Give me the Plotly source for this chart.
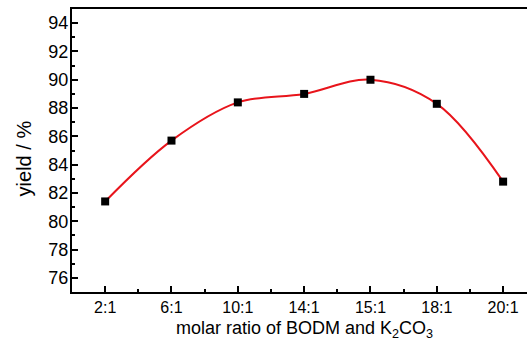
import plotly.graph_objects as go

categories = ["2:1", "6:1", "10:1", "14:1", "15:1", "18:1", "20:1"]
yield_pct = [81.4, 85.7, 88.4, 89.0, 90.0, 88.3, 82.8]
y_ticks = [76, 78, 80, 82, 84, 86, 88, 90, 92, 94]
x_title = "molar ratio of BODM and K<sub>2</sub>CO<sub>3</sub>"
y_title = "yield / %"

xpos = list(range(len(categories)))

fig = go.Figure()
fig.add_trace(go.Scatter(
    x=xpos, y=yield_pct, mode="lines",
    line=dict(color="#e8141b", width=2, shape="spline", smoothing=1.0),
    hoverinfo="skip", showlegend=False))
fig.add_trace(go.Scatter(
    x=xpos, y=yield_pct, mode="markers",
    marker=dict(symbol="square", size=8, color="black"),
    showlegend=False))

font = "Liberation Sans, Arial, sans-serif"
fig.update_layout(
    width=527, height=342,
    margin=dict(l=72, r=0, t=9, b=50),
    paper_bgcolor="white", plot_bgcolor="white",
    font=dict(family=font, color="black"),
)
fig.update_xaxes(
    range=[-0.5, 6.36], tickmode="array", tickvals=xpos, ticktext=categories,
    ticks="inside", ticklen=6, tickwidth=1.5, tickcolor="black",
    minor=dict(tickvals=[i + 0.5 for i in range(-1, 7)], ticks="inside", ticklen=3, tickwidth=1.5, tickcolor="black"),
    showline=True, linecolor="black", linewidth=2, mirror=True,
    showgrid=False, zeroline=False,
    tickfont=dict(size=16), ticklabelstandoff=0,
)
fig.update_yaxes(
    range=[75, 95], tickmode="array", tickvals=y_ticks,
    ticks="inside", ticklen=6, tickwidth=1.5, tickcolor="black",
    minor=dict(dtick=1, tick0=75, ticks="inside", ticklen=3, tickwidth=1.5, tickcolor="black"),
    showline=True, linecolor="black", linewidth=2, mirror=False,
    showgrid=False, zeroline=False,
    tickfont=dict(size=18), ticklabelstandoff=-2,
)
fig.add_annotation(text=x_title, xref="paper", yref="paper", x=0.511, y=-0.131,
                   xanchor="center", yanchor="middle", showarrow=False,
                   font=dict(size=18, family=font))
fig.add_annotation(text=y_title, xref="paper", yref="paper", x=-0.1055, y=0.472,
                   xanchor="center", yanchor="middle", showarrow=False, textangle=-90,
                   font=dict(size=20, family=font))
fig.write_html("out.html")
